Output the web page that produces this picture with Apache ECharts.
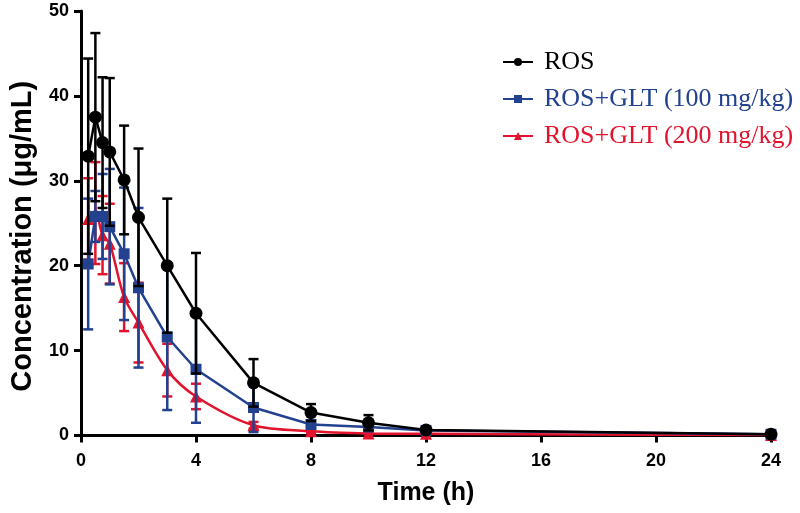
<!DOCTYPE html>
<html>
<head>
<meta charset="utf-8">
<script src="https://cdn.jsdelivr.net/npm/echarts@6/dist/echarts.min.js"></script>
<style>html,body{margin:0;padding:0;background:#fff}#c{width:800px;height:513px}</style>
</head>
<body>
<div id="c"></div>
<script>
var times = [0.25, 0.5, 0.75, 1, 1.5, 2, 3, 4, 6, 8, 10, 12, 24];
var seriesNames = ['ROS', 'ROS+GLT (100 mg/kg)', 'ROS+GLT (200 mg/kg)'];
var rosMean = [32.9, 37.5, 34.5, 33.4, 30.1, 25.7, 20.0, 14.4, 6.2, 2.7, 1.5, 0.65, 0.15];
var rosSD   = [11.5, 9.9, 7.7, 8.7, 6.4, 8.1, 7.9, 7.1, 2.8, 1.0, 0.9, 0.3, 0.2];
var glt100Mean = [20.2, 25.8, 25.8, 24.6, 21.4, 17.4, 11.6, 7.8, 3.3, 1.3, 1.0, 0.6, 0.15];
var glt100SD   = [7.7, 3.0, 5.0, 6.8, 7.8, 9.4, 8.6, 6.3, 2.9, 0.5, 0.4, 0.3, 0.2];
var glt200Mean = [25.5, 26.2, 23.6, 22.6, 16.3, 13.3, 7.7, 4.6, 1.2, 0.5, 0.25, 0.2, 0.05];
var glt200SD   = [4.8, 6.0, 4.6, 4.7, 4.0, 4.7, 3.1, 1.5, 0.4, 0.2, 0.1, 0.1, 0.05];
var xTicks = [0, 4, 8, 12, 16, 20, 24];
var yTicks = [0, 10, 20, 30, 40, 50];

var colors = ['#000000', '#22418f', '#e2132d'];
var symbols = ['circle', 'rect', 'triangle'];
var means = [rosMean, glt100Mean, glt200Mean];
var sds = [rosSD, glt100SD, glt200SD];

function pts(m) { return times.map(function (t, i) { return [t, m[i]]; }); }
function errs(m, s) { return times.map(function (t, i) { return [t, Math.max(0, m[i] - s[i]), m[i] + s[i]]; }); }

var series = [];
[2, 1, 0].forEach(function (k, order) {
  series.push({
    type: 'custom',
    name: seriesNames[k] + ' err',
    z: 2 + order * 2,
    silent: true,
    data: errs(means[k], sds[k]),
    renderItem: function (params, api) {
      var x = api.value(0);
      var lo = api.coord([x, api.value(1)]);
      var hi = api.coord([x, api.value(2)]);
      var hw = 5;
      var st = { stroke: colors[k], lineWidth: 2.5 };
      return {
        type: 'group',
        children: [
          { type: 'line', shape: { x1: hi[0], y1: hi[1], x2: lo[0], y2: lo[1] }, style: st },
          { type: 'line', shape: { x1: hi[0] - hw, y1: hi[1], x2: hi[0] + hw, y2: hi[1] }, style: st },
          { type: 'line', shape: { x1: lo[0] - hw, y1: lo[1], x2: lo[0] + hw, y2: lo[1] }, style: st }
        ]
      };
    }
  });
  series.push({
    type: 'line',
    name: seriesNames[k],
    z: 3 + order * 2,
    data: pts(means[k]),
    smooth: k === 2 ? 0.3 : false,
    symbol: symbols[k],
    symbolSize: k === 0 ? 13 : (k === 1 ? 11 : 12),
    showSymbol: true,
    lineStyle: { color: colors[k], width: 2.5 },
    itemStyle: { color: colors[k] },
    animation: false
  });
});

var chart = echarts.init(document.getElementById('c'));
chart.setOption({
  animation: false,
  backgroundColor: '#ffffff',
  grid: { left: 80.5, right: 29, top: 11, bottom: 77.5, containLabel: false },
  legend: {
    data: seriesNames.map(function (n, i) {
      return { name: n, textStyle: { color: colors[i] } };
    }),
    orient: 'vertical',
    left: 497,
    top: 44,
    itemGap: 11,
    itemWidth: 30,
    itemHeight: 10,
    textStyle: { fontFamily: 'Liberation Serif', fontSize: 26, padding: [0, 0, 0, 6] }
  },
  xAxis: {
    type: 'value',
    min: 0, max: 24, interval: 4,
    name: 'Time (h)',
    nameLocation: 'middle',
    nameGap: 45,
    nameTextStyle: { fontFamily: 'Liberation Sans', fontWeight: 'bold', fontSize: 25, color: '#000' },
    axisLine: { onZero: false, lineStyle: { color: '#000', width: 3 } },
    axisTick: { length: 7, lineStyle: { color: '#000', width: 3 } },
    axisLabel: {
      margin: 17, color: '#000', fontFamily: 'Liberation Sans', fontWeight: 'bold', fontSize: 18,
      formatter: function (v) { return xTicks.indexOf(v) >= 0 ? String(v) : ''; }
    },
    splitLine: { show: false }
  },
  yAxis: {
    type: 'value',
    min: 0, max: 50, interval: 10,
    name: 'Concentration (μg/mL)',
    nameLocation: 'middle',
    nameGap: 44,
    nameTextStyle: { fontFamily: 'Liberation Sans', fontWeight: 'bold', fontSize: 29, color: '#000', padding: [0, 26, 0, 0] },
    axisLine: { show: true, onZero: false, lineStyle: { color: '#000', width: 3 } },
    axisTick: { show: true, length: 7, lineStyle: { color: '#000', width: 3 } },
    axisLabel: {
      margin: 12, color: '#000', fontFamily: 'Liberation Sans', fontWeight: 'bold', fontSize: 18,
      formatter: function (v) { return yTicks.indexOf(v) >= 0 ? String(v) : ''; }
    },
    splitLine: { show: false }
  },
  series: series
});
</script>
</body>
</html>
